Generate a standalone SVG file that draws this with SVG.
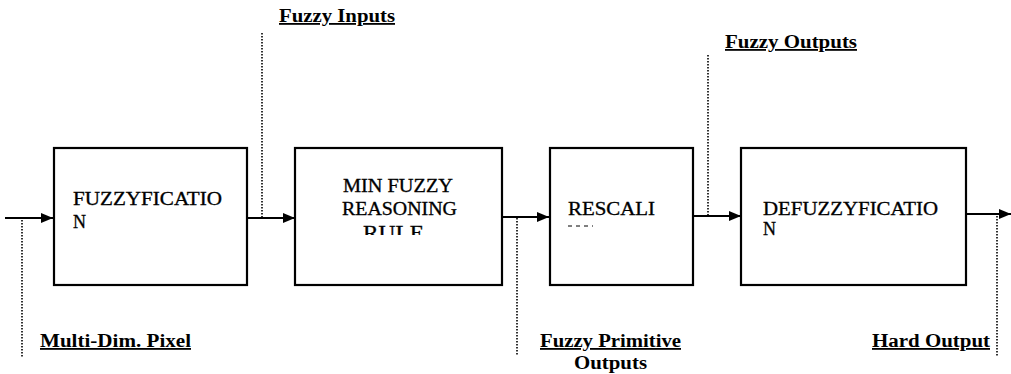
<svg xmlns="http://www.w3.org/2000/svg" width="1011" height="374" viewBox="0 0 1011 374" font-family="Liberation Serif, serif">
<style>
.box{fill:#fff;stroke:#000;stroke-width:2.2}
.bt{font-size:18px;fill:#000;stroke:#000;stroke-width:0.3}
.lbl{font-size:18px;font-weight:bold;fill:#000;text-decoration:underline}
.lb2{font-size:18px;font-weight:bold;fill:#000}
.ar{stroke:#000;stroke-width:2.2;fill:none}
.dot{stroke:#000;stroke-width:1.6;stroke-dasharray:1.5 1.5;fill:none}
</style>
<defs>
<marker id="ah" markerWidth="12" markerHeight="10" refX="12" refY="5" orient="auto" markerUnits="userSpaceOnUse">
<path d="M0,0 L12,5 L0,10 Z" fill="#000"/>
</marker>
<clipPath id="clipRule"><rect x="296" y="140" width="205" height="95"/></clipPath>
</defs>
<rect width="1011" height="374" fill="#fff"/>
<g id="connectors">
<line class="ar" x1="5" y1="218" x2="53" y2="218" marker-end="url(#ah)"/>
<line class="ar" x1="247" y1="218" x2="295" y2="218" marker-end="url(#ah)"/>
<line class="ar" x1="502" y1="217" x2="549" y2="217" marker-end="url(#ah)"/>
<line class="ar" x1="693" y1="216" x2="741" y2="216" marker-end="url(#ah)"/>
<line class="ar" x1="966" y1="214" x2="1011" y2="214" marker-end="url(#ah)"/>
<line class="dot" x1="22" y1="220" x2="22" y2="358"/>
<line class="dot" x1="262" y1="33" x2="262" y2="217"/>
<line class="dot" x1="517" y1="218" x2="517" y2="355"/>
<line class="dot" x1="708" y1="55" x2="708" y2="215"/>
<line class="dot" x1="997" y1="216" x2="997" y2="356"/>
</g>
<g id="fuzzyfication" font-family="Liberation Serif, serif">
<rect class="box" x="54" y="148" width="193" height="137"/>
<text class="bt" font-family="Liberation Serif, serif" x="73" y="205" textLength="149" lengthAdjust="spacingAndGlyphs">FUZZYFICATIO</text>
<text class="bt" font-family="Liberation Serif, serif" x="73" y="228">N</text>
</g>
<g id="min-fuzzy" font-family="Liberation Serif, serif">
<rect class="box" x="295" y="148" width="207" height="137"/>
<text class="bt" font-family="Liberation Serif, serif" x="343" y="192" textLength="110" lengthAdjust="spacingAndGlyphs">MIN FUZZY</text>
<text class="bt" font-family="Liberation Serif, serif" x="342" y="215" textLength="115" lengthAdjust="spacingAndGlyphs">REASONING</text>
<text class="bt" font-family="Liberation Serif, serif" x="363" y="239" textLength="61" lengthAdjust="spacingAndGlyphs" clip-path="url(#clipRule)">RULE</text>
</g>
<g id="rescaling" font-family="Liberation Serif, serif">
<rect class="box" x="550" y="148" width="143" height="137"/>
<text class="bt" font-family="Liberation Serif, serif" x="568" y="215" textLength="87" lengthAdjust="spacingAndGlyphs">RESCALI</text>
<line x1="568" y1="226" x2="593" y2="226" stroke="#000" stroke-width="1" stroke-dasharray="4 4"/>
</g>
<g id="defuzzyfication" font-family="Liberation Serif, serif">
<rect class="box" x="741" y="148" width="225" height="137"/>
<text class="bt" font-family="Liberation Serif, serif" x="763" y="215" textLength="175" lengthAdjust="spacingAndGlyphs">DEFUZZYFICATIO</text>
<text class="bt" font-family="Liberation Serif, serif" x="763" y="235">N</text>
</g>
<g id="labels" font-family="Liberation Serif, serif">
<text class="lbl" font-family="Liberation Serif, serif" x="279" y="22" textLength="116" lengthAdjust="spacingAndGlyphs">Fuzzy Inputs</text>
<text class="lbl" font-family="Liberation Serif, serif" x="725" y="48" textLength="132" lengthAdjust="spacingAndGlyphs">Fuzzy Outputs</text>
<text class="lbl" font-family="Liberation Serif, serif" x="40" y="347" textLength="151" lengthAdjust="spacingAndGlyphs">Multi-Dim. Pixel</text>
<text class="lbl" font-family="Liberation Serif, serif" x="540" y="347" textLength="141" lengthAdjust="spacingAndGlyphs">Fuzzy Primitive</text>
<text class="lb2" font-family="Liberation Serif, serif" x="574" y="369" textLength="73" lengthAdjust="spacingAndGlyphs">Outputs</text>
<text class="lbl" font-family="Liberation Serif, serif" x="872" y="347" textLength="118" lengthAdjust="spacingAndGlyphs">Hard Output</text>
</g>
</svg>
